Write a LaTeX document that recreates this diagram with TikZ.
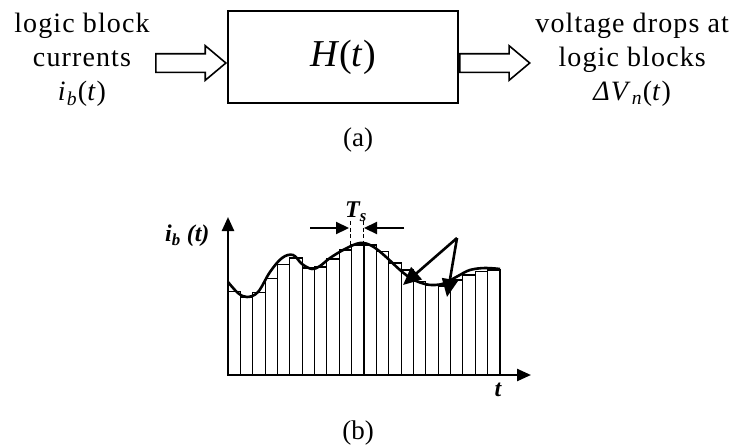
\documentclass[tikz,border=0pt]{standalone}
\usepackage{fontspec}
\setmainfont{Liberation Serif}
\newfontfamily\spacedfont[LetterSpace=4]{Liberation Serif}
\usetikzlibrary{shapes.arrows, arrows.meta, positioning}

\begin{document}
\begin{tikzpicture}[x=1pt, y=-1pt,
  sysbox/.style={rectangle, draw, line width=1.8pt, minimum width=230pt, minimum height=92pt, font=\fontsize{38}{42}\selectfont},
  fatarr/.style={single arrow, draw, line width=1.6pt, minimum height=70pt, inner xsep=0pt, inner ysep=8.5pt, single arrow head extend=8pt, single arrow tip angle=80},
  lbl/.style={align=center, font=\fontsize{28}{34}\spacedfont},
  capt/.style={font=\fontsize{27}{30}\selectfont},
  axlbl/.style={font=\fontsize{24}{28}\selectfont\bfseries\itshape},
  axis/.style={line width=2.4pt, -{Triangle[length=14pt, width=12pt]}},
  bar/.style={line width=1.1pt},
  sig/.style={line width=2.6pt, line join=round},
  tsarr/.style={line width=2.2pt, -{Triangle[length=13pt, width=12pt]}},
  bigarr/.style={line width=2.6pt, line join=round, -{Triangle[length=18pt, width=16pt]}}
]
\useasboundingbox (0,0) rectangle (733,447);

% (a) system block
\node[sysbox] (sys) at (343,57) {\textit{H}(\textit{t})};
\node[fatarr, anchor=tip] (inarr) at ([yshift=-6pt]sys.west) {};
\node[fatarr, anchor=tail] (outarr) at ([yshift=-6pt]sys.east) {};
\node[lbl] (inlbl) at (82,60) {logic block\\currents\\\textit{i}\textsubscript{\textit{b}}(\textit{t})};
\node[lbl, anchor=west] (outlbl) at ([xshift=1pt, yshift=3pt]outarr.tip) {voltage drops at\\logic blocks\\\textit{ΔV}\textsubscript{\textit{n}}(\textit{t})};
\node[capt] (capa) at (358,140) {(a)};

% (b) sampled current
\coordinate (orig) at (228,375);
\coordinate (ytop) at (228,217);
\coordinate (xend) at (531,375);
\foreach \top [count=\i from 0] in {291.5,297,292.5,278.5,264.5,258,268,267,259,250,245,245,251.5,263,270,281.5,285,286,280,275,271.5,270}
  \draw[bar] ({228+\i*12.3636},375) rectangle ++(12.3636,{\top-375});
\draw[bar, dashed, dash pattern=on 4pt off 2.5pt] (350.7,221) -- (350.7,245);
\draw[bar, dashed, dash pattern=on 4pt off 2.5pt] (363.1,221) -- (363.1,245);
\draw[sig] plot[smooth, tension=0.6] coordinates {(228,282) (238,293) (247,297) (258,292) (270,272) (282,258) (293,255) (302,264) (312,269) (320,266) (330,258) (345,249) (360,243) (372,246) (385,256) (400,270) (412,279) (425,284) (435,285) (445,283) (458,276) (470,270) (485,268) (500,269)};
\draw[axis] (orig) -- (ytop);
\draw[axis] (orig) -- (xend);

\coordinate (tsl0) at (310,228);
\coordinate (tsl1) at (349,228);
\coordinate (tsr0) at (404,228);
\coordinate (tsr1) at (364,228);
\draw[tsarr] (tsl0) -- (tsl1);
\draw[tsarr] (tsr0) -- (tsr1);

\coordinate (kink) at (457,238);
\coordinate (tipa) at (403,285);
\coordinate (tipb) at (447,297);
\draw[bigarr] (kink) -- (tipa);
\draw[bigarr] (kink) -- (tipb);

\node[axlbl, anchor=east] (ylbl) at (213,236) {\textit{i}\textsubscript{\textit{b}} (\textit{t})};
\node[axlbl] (tslbl) at (356,212) {\textit{T}\textsubscript{\textit{s}}};
\node[axlbl] (xlbl) at (498,390) {\textit{t}};
\node[capt] (capb) at (358,433) {(b)};
\end{tikzpicture}
\end{document}
